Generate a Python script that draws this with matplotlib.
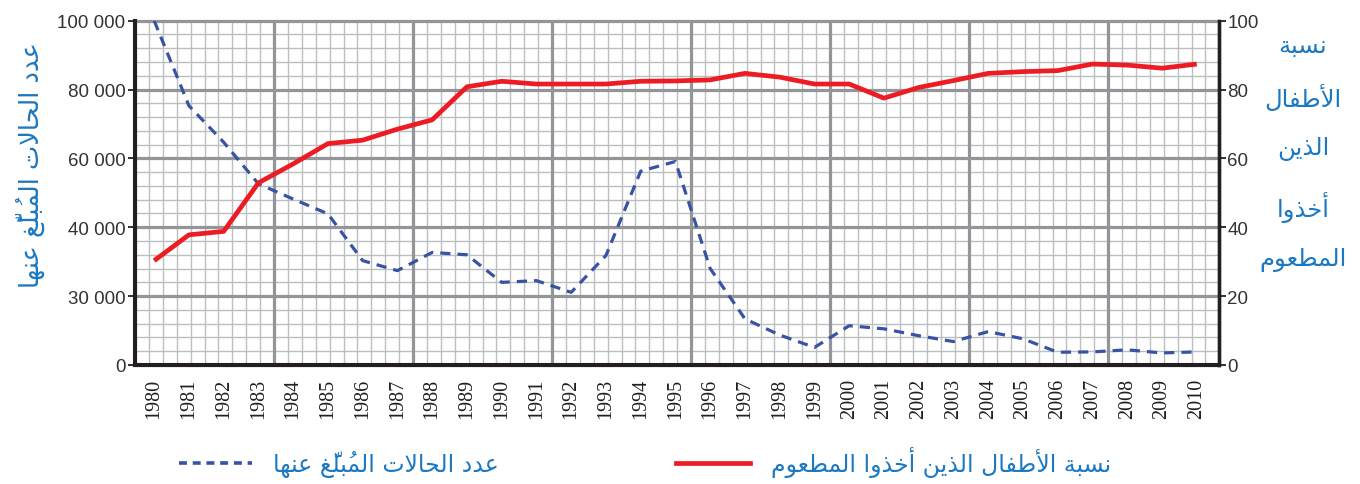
import numpy as np
import matplotlib
matplotlib.use("Agg")
import matplotlib.pyplot as plt
from matplotlib.lines import Line2D

# data
years = list(range(1980, 2011))
vaccinated_pct = [30.3, 37.8, 38.8, 52.9, 58.4, 64.3, 65.3, 68.5, 71.2, 80.8,
                  82.4, 81.6, 81.6, 81.6, 82.4, 82.5, 82.8, 84.7, 83.6, 81.6,
                  81.6, 77.5, 80.6, 82.6, 84.7, 85.2, 85.5, 87.4, 87.1, 86.2,
                  87.4]
reported_cases = [100000, 75300, 64700, 52600, 48200, 43900, 35150, 33700, 36350, 36000,
                  32000, 32250, 30550, 35900, 56300, 59100, 34000, 20100, 13050, 7650,
                  17100, 15750, 12750, 10200, 14550, 11400, 5550, 5700, 6600, 5250,
                  5700]

# left axis is labelled unevenly: equal steps carry these values
left_ticks = [0, 30000, 40000, 60000, 80000, 100000]
left_pos = [0, 20, 40, 60, 80, 100]
right_ticks = [0, 20, 40, 60, 80, 100]

cases_label = "عدد الحالات المُبلَّغ عنها"
pct_label_lines = ["نسبة", "الأطفال", "الذين", "أخذوا", "المطعوم"]
pct_legend = "نسبة الأطفال الذين أخذوا المطعوم"

RED = "#ed1c24"
BLUE = "#3953a4"
TXT_BLUE = "#1c78c0"
DARK = "#231f20"

# --- minimal Arabic shaping (matplotlib does no RTL / joining) ---
BASE = {'ا': (0xFE8D, 2), 'أ': (0xFE83, 2), 'ب': (0xFE8F, 4), 'ة': (0xFE93, 2),
        'ت': (0xFE95, 4), 'ح': (0xFEA1, 4), 'خ': (0xFEA5, 4), 'د': (0xFEA9, 2),
        'ذ': (0xFEAB, 2), 'س': (0xFEB1, 4), 'ط': (0xFEC1, 4), 'ع': (0xFEC9, 4),
        'غ': (0xFECD, 4), 'ف': (0xFED1, 4), 'ل': (0xFEDD, 4), 'م': (0xFEE1, 4),
        'ن': (0xFEE5, 4), 'ه': (0xFEE9, 4), 'و': (0xFEED, 2), 'ي': (0xFEF1, 4)}
LAM_ALEF = {'ا': 0xFEFB, 'أ': 0xFEF7}
MARKS = set('\u064B\u064C\u064D\u064E\u064F\u0650\u0651\u0652')


def shape(text):
    clusters = []
    for ch in text:
        if ch in MARKS and clusters:
            clusters[-1][1] += ch
        else:
            clusters.append([ch, ''])
    merged = []
    i = 0
    while i < len(clusters):
        b, m = clusters[i]
        if b == 'ل' and i + 1 < len(clusters) and clusters[i + 1][0] in LAM_ALEF:
            merged.append(['LA' + clusters[i + 1][0], m + clusters[i + 1][1]])
            i += 2
        else:
            merged.append([b, m])
            i += 1

    def is_letter(b):
        return b in BASE or b.startswith('LA')

    def joins_next(b):
        return b in BASE and BASE[b][1] == 4

    out = []
    for i, (b, m) in enumerate(merged):
        prev = merged[i - 1][0] if i > 0 else ' '
        nxt = merged[i + 1][0] if i + 1 < len(merged) else ' '
        jp = is_letter(b) and joins_next(prev)
        if b.startswith('LA'):
            g = chr(LAM_ALEF[b[2]] + (1 if jp else 0))
        elif b in BASE:
            start, n = BASE[b]
            jn = n == 4 and is_letter(nxt)
            idx = (3 if jn else 1) if jp else (2 if jn else 0)
            g = chr(start + idx)
        else:
            g = b
        # marks have no advance and draw to the right of the pen: put them first
        out.append(m + g)
    return ''.join(reversed(out))


def fwd(v):
    return np.interp(v, left_ticks, left_pos)


def inv(p):
    return np.interp(p, left_pos, left_ticks)


fig = plt.figure(figsize=(13.6, 4.85), dpi=100)
ax = fig.add_axes([0.0993, 0.2454, 0.7970, 0.7099])
ax.set_yscale('function', functions=(fwd, inv))
ax.set_ylim(0, 100000)
x0, x1 = 1979.45, 2010.64
ax.set_xlim(x0, x1)

# graph-paper grid
minor_x = np.arange(x0, x1, 0.4)
major_x = np.arange(x0, x1, 4.0)
minor_y = np.arange(0, 101, 4) / 100
major_y = np.arange(0, 101, 20) / 100
ax.vlines(minor_x, 0, 1, transform=ax.get_xaxis_transform(), color="#bcbec0", lw=1.0, zorder=0.5)
ax.hlines(minor_y, 0, 1, transform=ax.transAxes, color="#bcbec0", lw=1.0, zorder=0.5)
ax.vlines(major_x, 0, 1, transform=ax.get_xaxis_transform(), color="#939598", lw=2.3, zorder=0.6)
ax.hlines(major_y, 0, 1, transform=ax.transAxes, color="#939598", lw=2.3, zorder=0.6, clip_on=False)

ax.plot(years, reported_cases, color=BLUE, lw=2.3, dashes=(3.2, 2.2), zorder=2)

ax2 = ax.twinx()
ax2.set_ylim(0, 100)
ax2.plot(years, vaccinated_pct, color=RED, lw=3.4, solid_capstyle='butt', zorder=3)

for a in (ax, ax2):
    a.spines['top'].set_visible(False)
    a.spines['left'].set_linewidth(2.9)
    a.spines['bottom'].set_linewidth(2.9)
    a.spines['right'].set_linewidth(2.4)
    for s in a.spines.values():
        s.set_color(DARK)

ax.set_yticks(left_ticks)
ax.set_yticklabels([f"{v:,}".replace(",", " ") for v in left_ticks],
                   fontfamily="Liberation Sans", fontsize=13.5, color="#333333")
ax.tick_params(axis='y', direction='out', length=5, width=1.3, color=DARK, pad=2)
ax2.set_yticks(right_ticks)
ax2.set_yticklabels([str(v) for v in right_ticks],
                    fontfamily="Liberation Sans", fontsize=13.5, color="#333333")
ax2.tick_params(axis='y', direction='out', length=5, width=1.3, color=DARK, pad=1)

ax.set_xticks(years)
ax.set_xticklabels([str(y) for y in years], rotation=90,
                   fontfamily="Liberation Serif", fontsize=14.5, color=DARK)
ax.tick_params(axis='x', length=0, pad=9)

fig.text(30 / 1360, 1 - 165 / 485, shape(cases_label), rotation=90, ha='center', va='center',
         fontfamily="DejaVu Sans", fontsize=18.5, color=TXT_BLUE)
fig.text(1303 / 1360, 1 - 153 / 485, "\n".join(shape(s) for s in pct_label_lines),
         ha='center', va='center', multialignment='center', linespacing=2.25,
         fontfamily="DejaVu Sans", fontsize=17.5, color=TXT_BLUE)

handles = [Line2D([], [], color=BLUE, lw=2.6, dashes=(2.2, 1.6)),
           Line2D([], [], color=RED, lw=3.4)]
leg = fig.legend(handles, [shape(cases_label), shape(pct_legend)], loc='center',
                 bbox_to_anchor=(645 / 1360, 1 - 463 / 485), ncol=2, frameon=False,
                 handlelength=3.1, handletextpad=0.9, columnspacing=7.5,
                 prop={'family': 'DejaVu Sans', 'size': 17})
for t in leg.get_texts():
    t.set_color(TXT_BLUE)

fig.savefig("out.png", dpi=100)
